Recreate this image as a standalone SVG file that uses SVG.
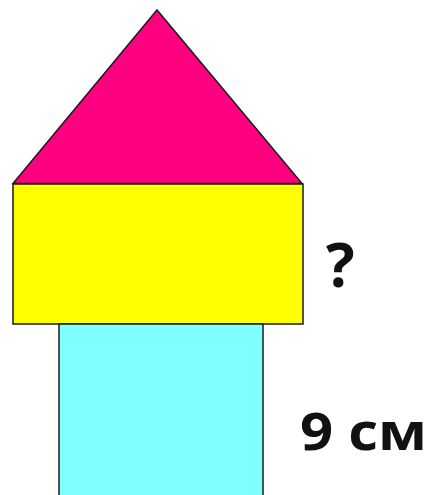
<svg xmlns="http://www.w3.org/2000/svg" width="432" height="495" viewBox="0 0 432 495">
<style>
.shape{stroke:#1a1a1a;stroke-width:1.5;stroke-linejoin:miter}
.lbl{font-family:"Open Sans","Liberation Sans",sans-serif;font-weight:bold;fill:#111}
</style>
<rect width="432" height="495" fill="#ffffff"/>
<g id="roof"><polygon class="shape" points="157,10 13,183.5 302,183.5" fill="#ff0080"/></g>
<g id="top-block"><rect class="shape" x="13" y="184" width="290" height="140" fill="#ffff00"/></g>
<g id="bottom-block"><rect class="shape" x="59" y="324" width="204" height="175" fill="#80ffff"/></g>
<g id="label-q"><text class="lbl" x="326" y="287" font-size="60">?</text></g>
<g id="label-9"><text class="lbl" x="300" y="450" font-size="52" textLength="127" lengthAdjust="spacingAndGlyphs">9 см</text></g>
</svg>
